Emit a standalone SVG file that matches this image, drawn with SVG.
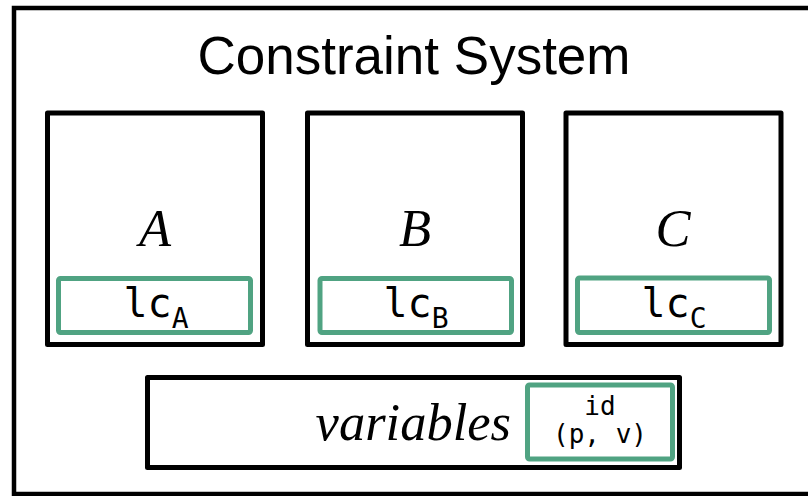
<svg xmlns="http://www.w3.org/2000/svg" width="808" height="496" viewBox="0 0 808 496">
<style>
.frame{fill:#fff;stroke:#000;stroke-width:4.5}
.box{fill:#fff;stroke:#000;stroke-width:5;stroke-linejoin:round}
.lc{fill:#fff;stroke:#50a382;stroke-width:5;stroke-linejoin:round}
.title{font-family:"Liberation Sans",Arial,sans-serif;font-size:53px;fill:#000}
.ital{font-family:"Liberation Serif","Times New Roman",serif;font-style:italic;font-size:52.5px;fill:#000}
.mono{font-family:"DejaVu Sans Mono",monospace;fill:#000}
</style>
<rect class="frame" x="14" y="8" width="820" height="486"/>
<text class="title" x="414" y="74" text-anchor="middle">Constraint System</text>
<g id="nodeA">
<rect class="box" x="47.5" y="113" width="215" height="231.5"/>
<text class="ital" x="155" y="246" text-anchor="middle">A</text>
<rect class="lc" x="58.5" y="278.5" width="192" height="54" rx="2"/>
<text class="mono" x="156" y="317" text-anchor="middle" font-size="40">lc<tspan font-size="28" dy="11">A</tspan></text>
</g>
<g id="nodeB">
<rect class="box" x="307.5" y="113" width="215" height="231.5"/>
<text class="ital" x="415" y="246" text-anchor="middle">B</text>
<rect class="lc" x="320" y="278.5" width="191.5" height="54" rx="2"/>
<text class="mono" x="416" y="317" text-anchor="middle" font-size="40">lc<tspan font-size="28" dy="11">B</tspan></text>
</g>
<g id="nodeC">
<rect class="box" x="566" y="113" width="215" height="231.5"/>
<text class="ital" x="673" y="246" text-anchor="middle">C</text>
<rect class="lc" x="577.5" y="278" width="192" height="54.5" rx="2"/>
<text class="mono" x="674" y="317" text-anchor="middle" font-size="40">lc<tspan font-size="28" dy="11">C</tspan></text>
</g>
<g id="variables">
<rect class="box" x="147.5" y="377.5" width="532" height="90"/>
<text class="ital" x="511" y="440" text-anchor="end">variables</text>
<rect class="lc" x="527.5" y="385" width="145" height="74" rx="2"/>
<text class="mono" x="600" y="415" text-anchor="middle" font-size="26">id</text>
<text class="mono" x="600" y="443" text-anchor="middle" font-size="26">(p, v)</text>
</g>
<g id="connectors"/>
</svg>
